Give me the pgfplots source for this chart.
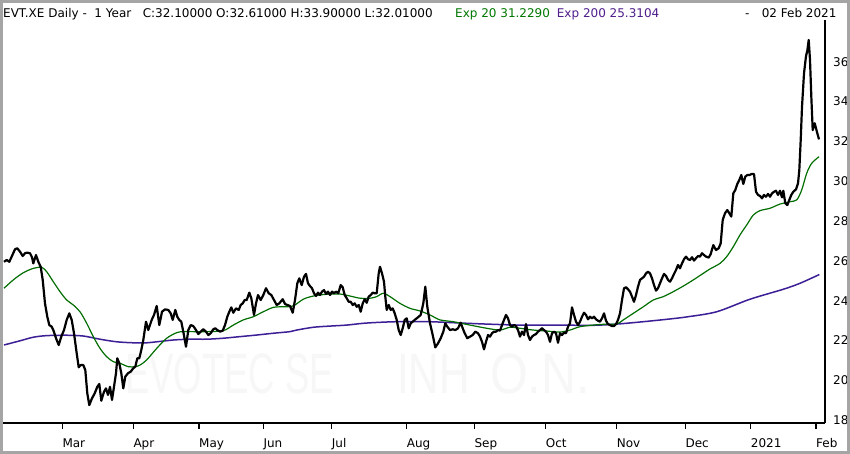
\documentclass[border=0pt]{standalone}
\usepackage{pgfplots}
\pgfplotsset{compat=1.18}
\usepackage{fontspec}
\setmainfont{DejaVu Sans}
\newfontfamily\wmfont{Liberation Sans}
\definecolor{emagreen}{RGB}{0,110,0}
\definecolor{emapurple}{RGB}{60,30,150}
\definecolor{txtgreen}{RGB}{0,120,0}
\definecolor{txtpurple}{RGB}{80,30,140}
\definecolor{wm}{RGB}{247,247,247}
\definecolor{framegray}{RGB}{165,165,165}
\begin{document}
\begin{tikzpicture}[x=1pt,y=1pt]
\useasboundingbox (-3,-31) rectangle (847,423);
\fill[white] (-3,-31) rectangle (847,423);
% watermark
\node[anchor=base west, inner sep=0pt, text=wm, xscale=0.64, font=\wmfont\fontsize{57}{60}\selectfont] at (122,29) {EVOTEC SE};
\node[anchor=base west, inner sep=0pt, text=wm, xscale=0.74, font=\wmfont\fontsize{57}{60}\selectfont] at (394,29) {INH};
\node[anchor=base west, inner sep=0pt, text=wm, xscale=0.85, font=\wmfont\fontsize{57}{60}\selectfont] at (487,29) {O.N.};
\begin{axis}[
  at={(0,0)}, anchor=south west,
  scale only axis, width=822pt, height=403pt,
  xmin=3, xmax=825, ymin=17.85, ymax=38.1,
  axis x line*=bottom, axis y line*=right,
  axis line style={line width=2pt, black},
  xtick={62.3,133.3,199,263.3,331.7,406.7,474.3,545.7,616.7,685.3,750.7,816},
  xticklabels={Mar,Apr,May,Jun,Jul,Aug,Sep,Oct,Nov,Dec,2021,Feb},
  ytick={18,20,...,36},
  tick align=outside,
  major tick length=6pt,
  xtick style={line width=1.5pt, black},
  ytick style={draw=none},
  tick label style={font=\fontsize{12}{14}\selectfont},
  xticklabel style={anchor=base west, inner sep=0pt, yshift=-19pt},
  yticklabel style={anchor=west, inner sep=0pt, xshift=2pt},
  /pgf/number format/assume math mode=true,
]
% EMA 200
\addplot[emapurple, line width=1.5pt, smooth] coordinates {
(4,21.77) (20,21.98) (33.3,22.16) (46.7,22.24) (66.7,22.26) (83.3,22.22) (100,22.06) (116.7,21.93) (133.3,21.88) (146.7,21.88) (156.7,21.93) (173.3,22.02) (190,22.06) (206.7,22.06) (223.3,22.11) (240,22.19) (256.7,22.27) (273.3,22.36) (290,22.44) (296.7,22.52) (313.3,22.66) (330,22.72) (346.7,22.77) (363.3,22.86) (380,22.91) (396.7,22.94) (413.3,22.94) (430,22.94) (453.3,22.89) (486.7,22.82) (520,22.77) (553.3,22.77) (593.3,22.76) (616.7,22.82) (643.3,22.94) (666.7,23.06) (686.7,23.18) (716.7,23.44) (750,24.07) (783.3,24.57) (800,24.87) (819.3,25.31)
};
% EMA 20
\addplot[emagreen, line width=1.2pt, smooth] coordinates {
(4,24.62) (13.3,25.04) (23.3,25.40) (33.3,25.62) (41.7,25.67) (46.7,25.45) (53.3,24.95) (60,24.45) (66.7,24.03) (73.3,23.78) (80,23.44) (86.7,22.86) (93.3,22.19) (100,21.60) (106.7,21.18) (113.3,20.93) (120,20.85) (128.3,20.68) (135,20.68) (140,20.76) (146.7,21.02) (156.7,21.60) (166.7,22.11) (176.7,22.39) (183.3,22.44) (193.3,22.44) (206.7,22.44) (223.3,22.49) (233.3,22.77) (243.3,23.03) (253.3,23.19) (263.3,23.44) (273.3,23.66) (283.3,23.69) (290,23.70) (295,23.78) (303.3,24.07) (313.3,24.23) (326.7,24.32) (340,24.33) (350,24.23) (360,24.12) (370,24.12) (376.7,24.20) (383.3,24.37) (390,24.20) (400,23.86) (410,23.61) (420,23.48) (430,23.28) (440,23.03) (453.3,22.94) (470,22.77) (486.7,22.61) (500,22.52) (510,22.66) (520,22.61) (533.3,22.52) (546.7,22.47) (560,22.42) (570,22.52) (580,22.69) (593.3,22.77) (606.7,22.82) (616.7,22.82) (623.3,23.03) (633.3,23.36) (643.3,23.69) (653.3,24.03) (663.3,24.20) (673.3,24.45) (683.3,24.73) (693.3,25.04) (703.3,25.37) (710,25.59) (720,25.87) (726.7,26.21) (733.3,26.71) (740,27.30) (746.7,27.80) (753.3,28.30) (760,28.52) (770,28.64) (780,28.85) (790,28.97) (796.7,29.06) (801.7,29.56) (806.7,30.40) (811.7,30.90) (819,31.23)
};
% price
\addplot[black, line width=2.2pt, line join=round] coordinates {
(4,25.95) (6.7,26.04) (9.3,25.95) (11.7,26.21) (15,26.58) (17.3,26.63) (20,26.46) (22.7,26.24) (25,26.38) (27.3,26.41) (30,26.38) (32,26.18) (33.3,25.87) (36,26.29) (38.3,25.95) (40.7,25.70) (42.7,25.04) (45,23.86) (47.3,23.19) (49.3,22.77) (51.7,22.69) (53.3,22.52) (56,22.11) (58.7,21.77) (61.3,22.19) (64,22.52) (66.7,23.03) (69.3,23.36) (71.7,23.03) (74,22.36) (76.7,21.35) (78.7,20.65) (80.7,20.76) (83.3,20.76) (85.3,20.51) (87.3,19.34) (89.3,18.75) (92,19.09) (94.7,19.34) (97.3,19.67) (99.3,19.81) (101.3,18.97) (104,19.42) (106,19.59) (108,19.26) (110,19.67) (112,19.01) (114,19.67) (116,20.35) (117.3,21.10) (119.3,20.85) (121.3,20.35) (123.3,19.59) (125.3,20.18) (128,20.35) (130.7,20.43) (133.3,20.60) (135.3,20.68) (137.3,21.10) (139.3,21.10) (141.3,21.52) (143.3,22.02)
(146,22.94) (148.3,22.52) (151.7,23.03) (154,23.28) (156.7,23.73) (159.3,22.77) (162,23.44) (165,23.56) (168.3,23.53) (170.7,23.36) (172.7,23.03) (175.3,23.53) (177.3,23.19) (179.3,23.03) (181.3,22.94) (183.3,22.44) (186,21.68) (188.3,22.52) (190.7,22.77) (193.3,22.72) (196,22.52) (198.3,22.32) (200.7,22.44) (203.3,22.56) (206,22.44) (208.3,22.27) (210.7,22.36) (213.3,22.56) (215.3,22.61) (217.3,22.52) (220,22.44) (222.7,22.49) (225,22.77) (227.3,23.19) (229.3,23.44) (231.3,23.66) (233.3,23.39) (236,23.61) (238.7,23.53) (240.7,23.78) (242.7,23.86) (244.7,24.03) (246.7,24.03) (249.3,24.40) (251.3,24.12) (254,23.28) (256,23.86) (258,24.28) (260.7,24.03) (263.3,24.28) (266,24.62) (268.7,24.37) (271.3,24.28) (274,24.03) (276.7,23.78) (279.3,23.86)
(282.7,24.07) (285,23.83) (287.3,23.78) (290,23.73) (292.7,23.39) (295,24.03) (297.3,24.87) (299.3,25.12) (301.7,24.78) (304,25.20) (306,25.34) (308,24.87) (310,24.73) (312,24.62) (314,24.37) (316,24.23) (318,24.40) (320,24.28) (322,24.45) (324,24.53) (326,24.33) (328,24.45) (330,24.28) (332,24.45) (334,24.37) (336,24.45) (338.3,24.37) (340.7,24.78) (342.7,24.67) (344.7,24.28) (346.7,24.12) (348.7,23.94) (350.7,23.94) (352.7,23.78) (354.7,23.86) (356.7,23.69) (358.7,23.78) (360.7,23.44) (362.7,23.86) (364.7,24.07) (366.7,23.89) (368.7,24.20) (370.7,24.28) (372.7,24.40) (374.7,24.37) (376.7,24.37) (378.7,25.37) (380,25.70) (382,25.37) (384,24.95) (385.3,24.20) (386.7,23.53) (388.7,23.78) (390.7,23.53) (392.7,23.61) (394.7,23.36) (396.7,23.03) (398.7,22.52) (400.7,22.27) (402.7,22.61) (404.7,23.03) (406.7,23.11) (408.7,22.61) (410.7,22.86) (412.7,22.94) (414.7,23.03) (416.7,23.11) (418.7,23.19) (420.7,23.28)
(423.3,23.86) (425.3,24.70) (427.3,23.69) (430,22.86) (432.7,22.27) (435.3,21.65) (438,21.85) (440.7,22.11) (443.3,22.44) (445.3,22.86) (447.3,22.69) (450,22.52) (452.7,22.56) (455.3,22.52) (458,22.61) (460.7,22.89) (462.7,22.61) (464.7,22.36) (467.3,22.11) (470,22.19) (472.7,22.27) (475.3,22.44) (478,22.36) (480,22.19) (482,21.93) (484,21.55) (486,21.93) (488,22.27) (490,22.19) (492,22.36) (494,22.44) (496,22.44) (498,22.52) (500,22.49) (502,22.77) (504,23.03) (506,23.28) (508,23.11) (510,22.77) (512,22.69) (514,22.77) (516,22.72) (518,22.52) (520,22.19) (522,22.44) (524,22.27) (526,22.82) (528,22.27) (530,22.02) (532,22.19) (534,22.27) (536,22.32) (538,22.44) (540,22.52) (542,22.61) (544,22.52) (546,22.44) (548,22.27) (550,21.93) (552,22.36) (554,22.44) (556,22.36) (558,21.88) (560,22.36) (562,22.27) (564,22.39) (566,22.36) (568,22.69) (570,22.86)
(572,23.66) (574,23.28) (576,22.94) (578,22.77) (580,22.94) (582,23.19) (584,23.39) (586,23.28) (588,23.06) (590,23.19) (592,23.11) (594,23.19) (596,23.06) (598,22.99) (600,22.94) (602,23.11) (604,23.36) (606,22.99) (608,22.82) (610,22.77) (612,22.72) (614,22.72) (616,22.82) (618,23.03) (620,23.36) (622,24.03) (624,24.62) (626,24.67) (628,24.57) (630,24.45) (632,24.20) (634,23.94) (636,24.28) (638,24.70) (640,25.04) (642,25.12) (644,25.20) (646,25.37) (648,25.45) (650,25.37) (652,25.12) (654,24.78) (656,24.50) (658,24.62) (660,24.87) (662,25.12) (664,25.34) (666,25.24) (668,25.04) (670,24.95) (672,25.12) (674,25.34) (676,25.54) (678,25.79) (680,25.62) (682,25.87) (684,26.08) (686,26.21) (688,26.08) (690,26.04) (692,26.18) (694,26.01) (696,26.13) (698,26.24) (700,26.21) (702,26.38) (704,26.29) (706,26.21)
(708.7,26.16) (710.7,26.34) (713.3,26.79) (716,26.54) (718.7,26.63) (720.7,26.88) (722.7,28.05) (725,28.39) (727.3,28.55) (729.3,28.39) (731.3,28.22) (733.3,29.39) (735.3,29.56) (737.3,29.86) (739.3,30.06) (741.3,30.31) (743.3,29.86) (745.3,30.23) (747.3,30.31) (749.3,30.31) (751.7,30.36) (754,30.36) (756,29.47) (758,29.31) (760,29.26) (762,29.14) (764,29.31) (766,29.22) (768,29.36) (770,29.22) (772,29.39) (774,29.47) (776,29.52) (778,29.31) (780,29.52) (782,29.19) (783.3,29.52) (785.3,28.89) (787.3,28.80) (789.3,29.06) (791.3,29.31) (793.3,29.47) (796,29.59) (798,29.89) (799.3,30.56) (800.7,32.07) (802,33.74) (804,35.42) (806,36.29) (807.3,36.56) (808.7,37.10) (810,36.09) (811.3,34.25) (812.7,32.57) (814.7,32.91) (816,32.66) (817.3,32.41) (819,32.10)
};
\end{axis}
% header text
\node[anchor=base west, inner sep=0pt, font=\fontsize{12}{14}\selectfont] at (0,405.7) {EVT.XE Daily -~~1 Year~~~C:32.10000 O:32.61000 H:33.90000 L:32.01000};
\node[anchor=base west, inner sep=0pt, text=txtgreen, font=\fontsize{12}{14}\selectfont] at (452,405.7) {Exp 20 31.2290};
\node[anchor=base west, inner sep=0pt, text=txtpurple, font=\fontsize{12}{14}\selectfont] at (553.7,405.7) {Exp 200 25.3104};
\node[anchor=base west, inner sep=0pt, font=\fontsize{12}{14}\selectfont] at (742,405.7) {-};
\node[anchor=base east, inner sep=0pt, font=\fontsize{12}{14}\selectfont] at (833.7,405.7) {02 Feb 2021};
% frame
\draw[framegray, line width=3pt] (-1.5,-29.5) rectangle (845.5,421.5);
\end{tikzpicture}
\end{document}
